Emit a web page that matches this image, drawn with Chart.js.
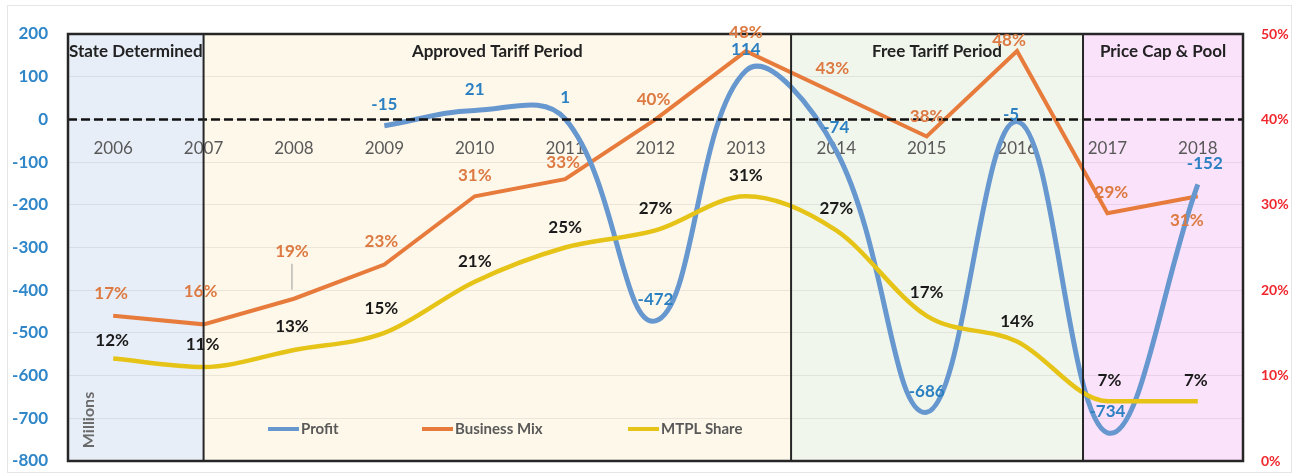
<!DOCTYPE html>
<html>
<head>
<meta charset="utf-8">
<script src="https://cdn.jsdelivr.net/npm/chart.js@4.4.1/dist/chart.umd.min.js"></script>
<style>
  html, body { margin: 0; padding: 0; background: #fff; }
  #wrap { width: 1299px; height: 475px; }
</style>
</head>
<body>
<div id="wrap"><canvas id="chart" width="1299" height="475"></canvas></div>
<script>
/* Motor TPL: profit, business mix and market share by tariff regime */

const years = ['2006', '2007', '2008', '2009', '2010', '2011', '2012', '2013', '2014', '2015', '2016', '2017', '2018'];
const profit = [null, null, null, -15, 21, 1, -472, 114, -74, -686, -5, -734, -152];   // millions
const businessMix = [17, 16, 19, 23, 31, 33, 40, 48, 43, 38, 48, 29, 31];              // %
const mtplShare = [12, 11, 13, 15, 21, 25, 27, 31, 27, 17, 14, 7, 7];                   // %

// regulatory periods, edges given in category units
const periodNames = ['State Determined', 'Approved Tariff Period', 'Free Tariff Period', 'Price Cap & Pool'];
const periodEdges = [-0.5, 1, 7.5, 10.73, 12.5];

const FONT = 'Lato, "Open Sans", sans-serif';
const COLORS = {
  profit: '#6797cf',
  mix: '#e77b3c',
  share: '#e6c317',
  profitText: '#2b80c2',
  mixText: '#dc7a42',
  shareText: '#1a1a1a',
  periods: ['#e8eef8', '#fef8eb', '#f1f6ed', '#fbe2fb']
};

// label nudges in px: [dx, dy] per point, default sits 21px above
const labelShift = {
  0: { 8: [0, -23], 10: [-6, -7], 12: [7, -21] },
  1: { 0: [-2, -22], 1: [-3, -33], 2: [-2, -47], 3: [-3, -23], 5: [-2, -17], 6: [-2, -20], 7: [0, -19],
       8: [-4, -25], 9: [0, -20], 10: [-8, -11], 11: [4, -21], 12: [-11, 24] },
  2: { 0: [-1, -18], 1: [-1, -23], 2: [-2, -23], 3: [-3, -24], 4: [0, -20], 5: [0, -20], 6: [0, -22],
       8: [0, -22], 9: [0, -23], 10: [0, -20], 11: [2, -21], 12: [-2, -21] }
};

// fixed axis widths, and no label overhang so the plot spans the full height
const fixWidth = w => s => { s.width = w; s.paddingTop = 0; s.paddingBottom = 0; };

const decorations = {
  id: 'decorations',
  beforeDraw(chart) {
    const { ctx, chartArea: a, scales } = chart;
    const x = scales.x;
    ctx.save();
    for (let i = 0; i < periodNames.length; i++) {
      const x0 = i === 0 ? a.left : x.getPixelForValue(periodEdges[i]);
      const x1 = i === periodNames.length - 1 ? a.right : x.getPixelForValue(periodEdges[i + 1]);
      ctx.fillStyle = COLORS.periods[i];
      ctx.fillRect(x0, a.top, x1 - x0, a.bottom - a.top);
    }
    // faint outer frame
    ctx.strokeStyle = '#e6e6e6';
    ctx.lineWidth = 1;
    ctx.strokeRect(7.5, 5.5, chart.width - 15, chart.height - 8);
    ctx.restore();
  },
  afterDatasetsDraw(chart) {
    const { ctx, chartArea: a, scales } = chart;
    const x = scales.x, y = scales.y;
    ctx.save();

    // zero line
    const y0 = y.getPixelForValue(0);
    ctx.strokeStyle = '#111';
    ctx.lineWidth = 2.5;
    ctx.setLineDash([9, 4]);
    ctx.beginPath();
    ctx.moveTo(a.left, y0);
    ctx.lineTo(a.right, y0);
    ctx.stroke();
    ctx.setLineDash([]);

    // period separators and frame
    ctx.strokeStyle = '#262626';
    ctx.lineWidth = 2;
    for (let i = 1; i < periodEdges.length - 1; i++) {
      const px = x.getPixelForValue(periodEdges[i]);
      ctx.beginPath();
      ctx.moveTo(px, a.top);
      ctx.lineTo(px, a.bottom);
      ctx.stroke();
    }
    ctx.lineWidth = 2.5;
    ctx.strokeRect(a.left, a.top, a.right - a.left, a.bottom - a.top);

    // period titles
    ctx.font = 'bold 17px ' + FONT;
    ctx.fillStyle = '#222';
    ctx.textAlign = 'center';
    ctx.textBaseline = 'middle';
    for (let i = 0; i < periodNames.length; i++) {
      const x0 = i === 0 ? a.left : x.getPixelForValue(periodEdges[i]);
      const x1 = i === periodNames.length - 1 ? a.right : x.getPixelForValue(periodEdges[i + 1]);
      ctx.fillText(periodNames[i], (x0 + x1) / 2, a.top + 18);
    }

    // axis unit
    ctx.save();
    ctx.translate(a.left + 21, a.bottom - 41);
    ctx.rotate(-Math.PI / 2);
    ctx.font = 'bold 16px ' + FONT;
    ctx.fillStyle = '#6a6a6a';
    ctx.fillText('Millions', 0, 0);
    ctx.restore();

    // legend inside the plot
    const ly = a.bottom - 32;
    const items = [[200, 'Profit', COLORS.profit], [354, 'Business Mix', COLORS.mix], [560, 'MTPL Share', COLORS.share]];
    ctx.font = 'bold 15px ' + FONT;
    ctx.textAlign = 'left';
    items.forEach(([off, text, color]) => {
      const lx = a.left + off;
      ctx.strokeStyle = color;
      ctx.lineWidth = 4;
      ctx.beginPath();
      ctx.moveTo(lx, ly);
      ctx.lineTo(lx + 31, ly);
      ctx.stroke();
      ctx.fillStyle = '#595959';
      ctx.fillText(text, lx + 33, ly);
    });

    // value labels
    ctx.textAlign = 'center';
    ctx.font = 'bold 17px ' + FONT;
    const textColors = [COLORS.profitText, COLORS.mixText, COLORS.shareText];
    [1, 2, 0].forEach(di => {
      const meta = chart.getDatasetMeta(di);
      const data = chart.data.datasets[di].data;
      meta.data.forEach((pt, i) => {
        const v = data[i];
        if (v === null || v === undefined) return;
        const [dx, dy] = (labelShift[di] && labelShift[di][i]) || [0, -21];
        const tx = pt.x + dx, ty = pt.y + dy;
        if (dy < -40) {
          ctx.strokeStyle = '#9a9a9a';
          ctx.lineWidth = 1;
          ctx.beginPath();
          ctx.moveTo(tx, ty + 12);
          ctx.lineTo(tx, pt.y - 9);
          ctx.stroke();
        }
        ctx.fillStyle = textColors[di];
        ctx.fillText(di === 0 ? String(v) : v + '%', tx, ty);
      });
    });
    ctx.restore();
  }
};

new Chart(document.getElementById('chart'), {
  type: 'line',
  data: {
    labels: years,
    datasets: [
      { label: 'Profit', data: profit, yAxisID: 'y', borderColor: COLORS.profit, borderWidth: 5,
        tension: 0.4, pointRadius: 0, order: 1 },
      { label: 'Business Mix', data: businessMix, yAxisID: 'y1', borderColor: COLORS.mix, borderWidth: 4,
        tension: 0, pointRadius: 0, order: 2 },
      { label: 'MTPL Share', data: mtplShare, yAxisID: 'y1', borderColor: COLORS.share, borderWidth: 4.5,
        cubicInterpolationMode: 'monotone', pointRadius: 0, order: 0 }
    ]
  },
  options: {
    responsive: false,
    animation: false,
    layout: { padding: { top: 34, bottom: 14, left: 0, right: 0 } },
    plugins: { legend: { display: false }, tooltip: { enabled: false } },
    scales: {
      x: {
        position: { y: 0 },
        offset: true,
        afterFit: s => { s.height = 0; },
        grid: { display: false },
        border: { display: false },
        ticks: { color: '#595959', font: { family: FONT, size: 17 }, padding: 11, maxRotation: 0 }
      },
      y: {
        position: 'left',
        min: -800, max: 200,
        afterFit: fixWidth(68),
        grid: { color: 'rgba(0,0,0,0.07)', drawTicks: false },
        border: { display: false },
        ticks: { stepSize: 100, padding: 20, color: '#2f86c8', font: { family: FONT, size: 17, weight: 'bold' } }
      },
      y1: {
        position: 'right',
        min: 0, max: 50,
        afterFit: fixWidth(56),
        grid: { display: false, drawTicks: false },
        border: { display: false },
        ticks: { stepSize: 10, padding: 18, color: '#f0282e', font: { family: FONT, size: 14, weight: 'bold' },
                 callback: v => v + '%' }
      }
    }
  },
  plugins: [decorations]
});
</script>
</body>
</html>
